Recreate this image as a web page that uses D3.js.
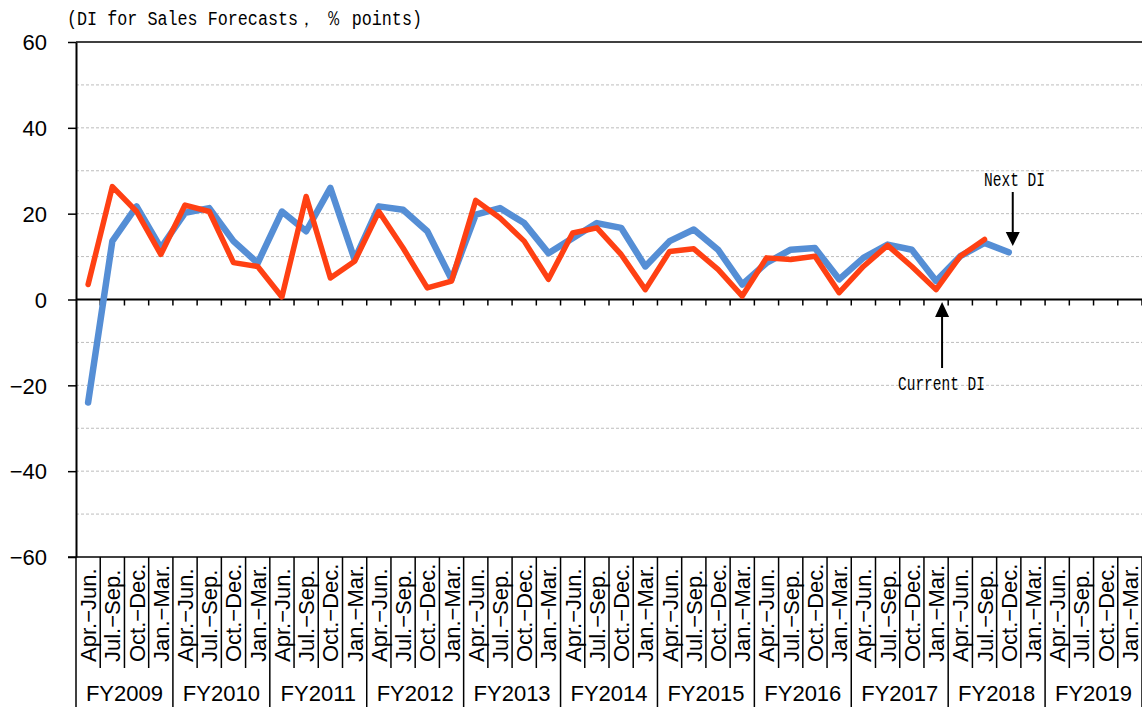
<html><head>
<title>DI for Sales Forecasts</title>
<script src="https://d3js.org/d3.v7.min.js"></script>
<style>
  body { margin: 0; background: #fff; }
  text.tick-label { font-family: "Liberation Sans", Arial, sans-serif; font-size: 22px; fill: #000; }
  text.quarter { font-family: "Liberation Sans", Arial, sans-serif; font-size: 22px; fill: #000; }
  text.year { font-family: "Liberation Sans", Arial, sans-serif; font-size: 22px; fill: #000; }
  text.mono { font-family: "Liberation Mono", "DejaVu Sans Mono", monospace; font-size: 20px; fill: #000; }
</style>
</head>
<body>
<svg id="chart" width="1142" height="707"></svg>
<script>

// ---- data ----
const fiscalYears = ["FY2009","FY2010","FY2011","FY2012","FY2013","FY2014","FY2015","FY2016","FY2017","FY2018","FY2019"];
const quarters = ["Apr.\u2212Jun.","Jul.\u2212Sep.","Oct.\u2212Dec.","Jan.\u2212Mar."];

// Next DI (blue) and Current DI (red), one value per quarter from FY2009 Apr.-Jun.
const nextDI = [-24, 13.6, 21.7, 12, 20.2, 21.3, 13.6, 8.5, 20.5, 15.9, 26, 9.3,
                21.7, 20.9, 15.9, 4.7, 19.8, 21.3, 17.8, 10.8, 14.3, 17.8, 16.7, 7.7,
                13.6, 16.3, 11.6, 3.5, 8.5, 11.6, 12, 4.7, 9.7, 12.8, 11.6, 4.3,
                10.1, 13.2, 11];
const currentDI = [3.5, 26.3, 20.5, 10.5, 22, 20.5, 8.6, 7.7, 0.6, 24, 5, 8.9,
                   20.5, 12, 2.7, 4.3, 23.1, 19, 13.6, 4.7, 15.5, 16.7, 10.5, 2.3,
                   11.2, 11.8, 7, 0.8, 9.7, 9.3, 10.1, 1.6, 7.7, 12.6, 7.7, 2.3,
                   10.1, 14];

const yTicks = [-60, -40, -20, 0, 20, 40, 60];
const yGrid = [-50, -40, -30, -20, -10, 10, 20, 30, 40, 50];

// ---- layout ----
const svg = d3.select("#chart");
const plotLeft = 76, plotRight = 1142, plotTop = 42, plotBottom = 557;

const categories = [];
fiscalYears.forEach(fy => quarters.forEach(q => categories.push(fy + " " + q)));

const x = d3.scaleBand().domain(d3.range(categories.length)).range([plotLeft, plotRight]);
const y = d3.scaleLinear().domain([-60, 60]).range([plotBottom, plotTop]);
const cx = i => x(i) + x.bandwidth() / 2;

// dashed grid lines
svg.append("g").selectAll("line").data(yGrid)
   .join("line")
   .attr("x1", plotLeft).attr("x2", plotRight)
   .attr("y1", d => y(d)).attr("y2", d => y(d))
   .attr("stroke", "#bdbdbd").attr("stroke-width", 1)
   .attr("stroke-dasharray", "3,2");

// frame top / bottom
svg.append("line").attr("x1", plotLeft).attr("x2", plotRight).attr("y1", plotTop).attr("y2", plotTop)
   .attr("stroke", "#000").attr("stroke-width", 1.5);
svg.append("line").attr("x1", plotLeft - 8).attr("x2", plotRight).attr("y1", plotBottom).attr("y2", plotBottom)
   .attr("stroke", "#000").attr("stroke-width", 1.5);

// y axis
const yAxis = svg.append("g").attr("transform", "translate(" + plotLeft + ",0)")
   .call(d3.axisLeft(y).tickValues(yTicks).tickSize(8).tickSizeOuter(0)
           .tickFormat(d => d < 0 ? "\u2212" + Math.abs(d) : d));
yAxis.select(".domain").attr("stroke-width", 2);
yAxis.selectAll(".tick line").attr("stroke-width", 1.5);
yAxis.selectAll(".tick text").attr("class", "tick-label").attr("x", -29).attr("dy", "0.35em");
// extend y axis line down through the label area
svg.append("line").attr("x1", plotLeft).attr("x2", plotLeft).attr("y1", plotBottom).attr("y2", 707)
   .attr("stroke", "#000").attr("stroke-width", 1.5);

// zero line with small ticks at each category boundary
svg.append("line").attr("x1", plotLeft).attr("x2", plotRight).attr("y1", y(0)).attr("y2", y(0))
   .attr("stroke", "#000").attr("stroke-width", 2);
svg.append("g").selectAll("line").data(d3.range(1, categories.length + 1))
   .join("line")
   .attr("x1", d => plotLeft + d * x.bandwidth()).attr("x2", d => plotLeft + d * x.bandwidth())
   .attr("y1", y(0)).attr("y2", y(0) + 6)
   .attr("stroke", "#000").attr("stroke-width", 1.5);

// category separators in label area (years run to the bottom)
svg.append("g").selectAll("line").data(d3.range(1, categories.length + 1))
   .join("line")
   .attr("x1", d => plotLeft + d * x.bandwidth()).attr("x2", d => plotLeft + d * x.bandwidth())
   .attr("y1", plotBottom).attr("y2", d => d % 4 === 0 ? 707 : 668)
   .attr("stroke", "#000").attr("stroke-width", 1.5);

// quarter labels (rotated)
svg.append("g").selectAll("text").data(categories)
   .join("text")
   .attr("class", "quarter")
   .attr("transform", (d, i) => "translate(" + (cx(i) + 8) + ",662) rotate(-90)")
   .text((d, i) => quarters[i % 4]);

// fiscal year labels
svg.append("g").selectAll("text").data(fiscalYears)
   .join("text")
   .attr("class", "year")
   .attr("x", (d, i) => plotLeft + (i * 4 + 2) * x.bandwidth())
   .attr("y", 701)
   .attr("text-anchor", "middle")
   .text(d => d);

// lines
const line = d3.line().x((d, i) => cx(i)).y(d => y(d));
svg.append("path").datum(nextDI)
   .attr("d", line).attr("fill", "none")
   .attr("stroke", "#558ed5").attr("stroke-width", 6.5)
   .attr("stroke-linejoin", "round").attr("stroke-linecap", "round");
svg.append("path").datum(currentDI)
   .attr("d", line).attr("fill", "none")
   .attr("stroke", "#ff4013").attr("stroke-width", 5.5)
   .attr("stroke-linejoin", "round").attr("stroke-linecap", "round");

// title
svg.append("text").attr("class", "mono")
   .attr("x", 67).attr("y", 25)
   .attr("textLength", 355).attr("lengthAdjust", "spacingAndGlyphs")
   .text("(DI for Sales Forecasts\uff0c \uff05 points)");

// annotations
const nextX = cx(38) + 4;
svg.append("text").attr("class", "mono")
   .attr("x", 984).attr("y", 186)
   .attr("textLength", 61).attr("lengthAdjust", "spacingAndGlyphs")
   .text("Next DI");
svg.append("line").attr("x1", nextX).attr("x2", nextX).attr("y1", 192).attr("y2", 234)
   .attr("stroke", "#000").attr("stroke-width", 2);
svg.append("path")
   .attr("d", "M" + (nextX - 7) + ",232 L" + (nextX + 7) + ",232 L" + nextX + ",246 Z")
   .attr("fill", "#000");

const curX = cx(35) + 6;
svg.append("path")
   .attr("d", "M" + (curX - 7) + ",317 L" + (curX + 7) + ",317 L" + curX + ",302 Z")
   .attr("fill", "#000");
svg.append("line").attr("x1", curX).attr("x2", curX).attr("y1", 315).attr("y2", 368)
   .attr("stroke", "#000").attr("stroke-width", 2);
svg.append("text").attr("class", "mono")
   .attr("x", 898).attr("y", 390)
   .attr("textLength", 87).attr("lengthAdjust", "spacingAndGlyphs")
   .text("Current DI");

</script>
</body>
</html>
